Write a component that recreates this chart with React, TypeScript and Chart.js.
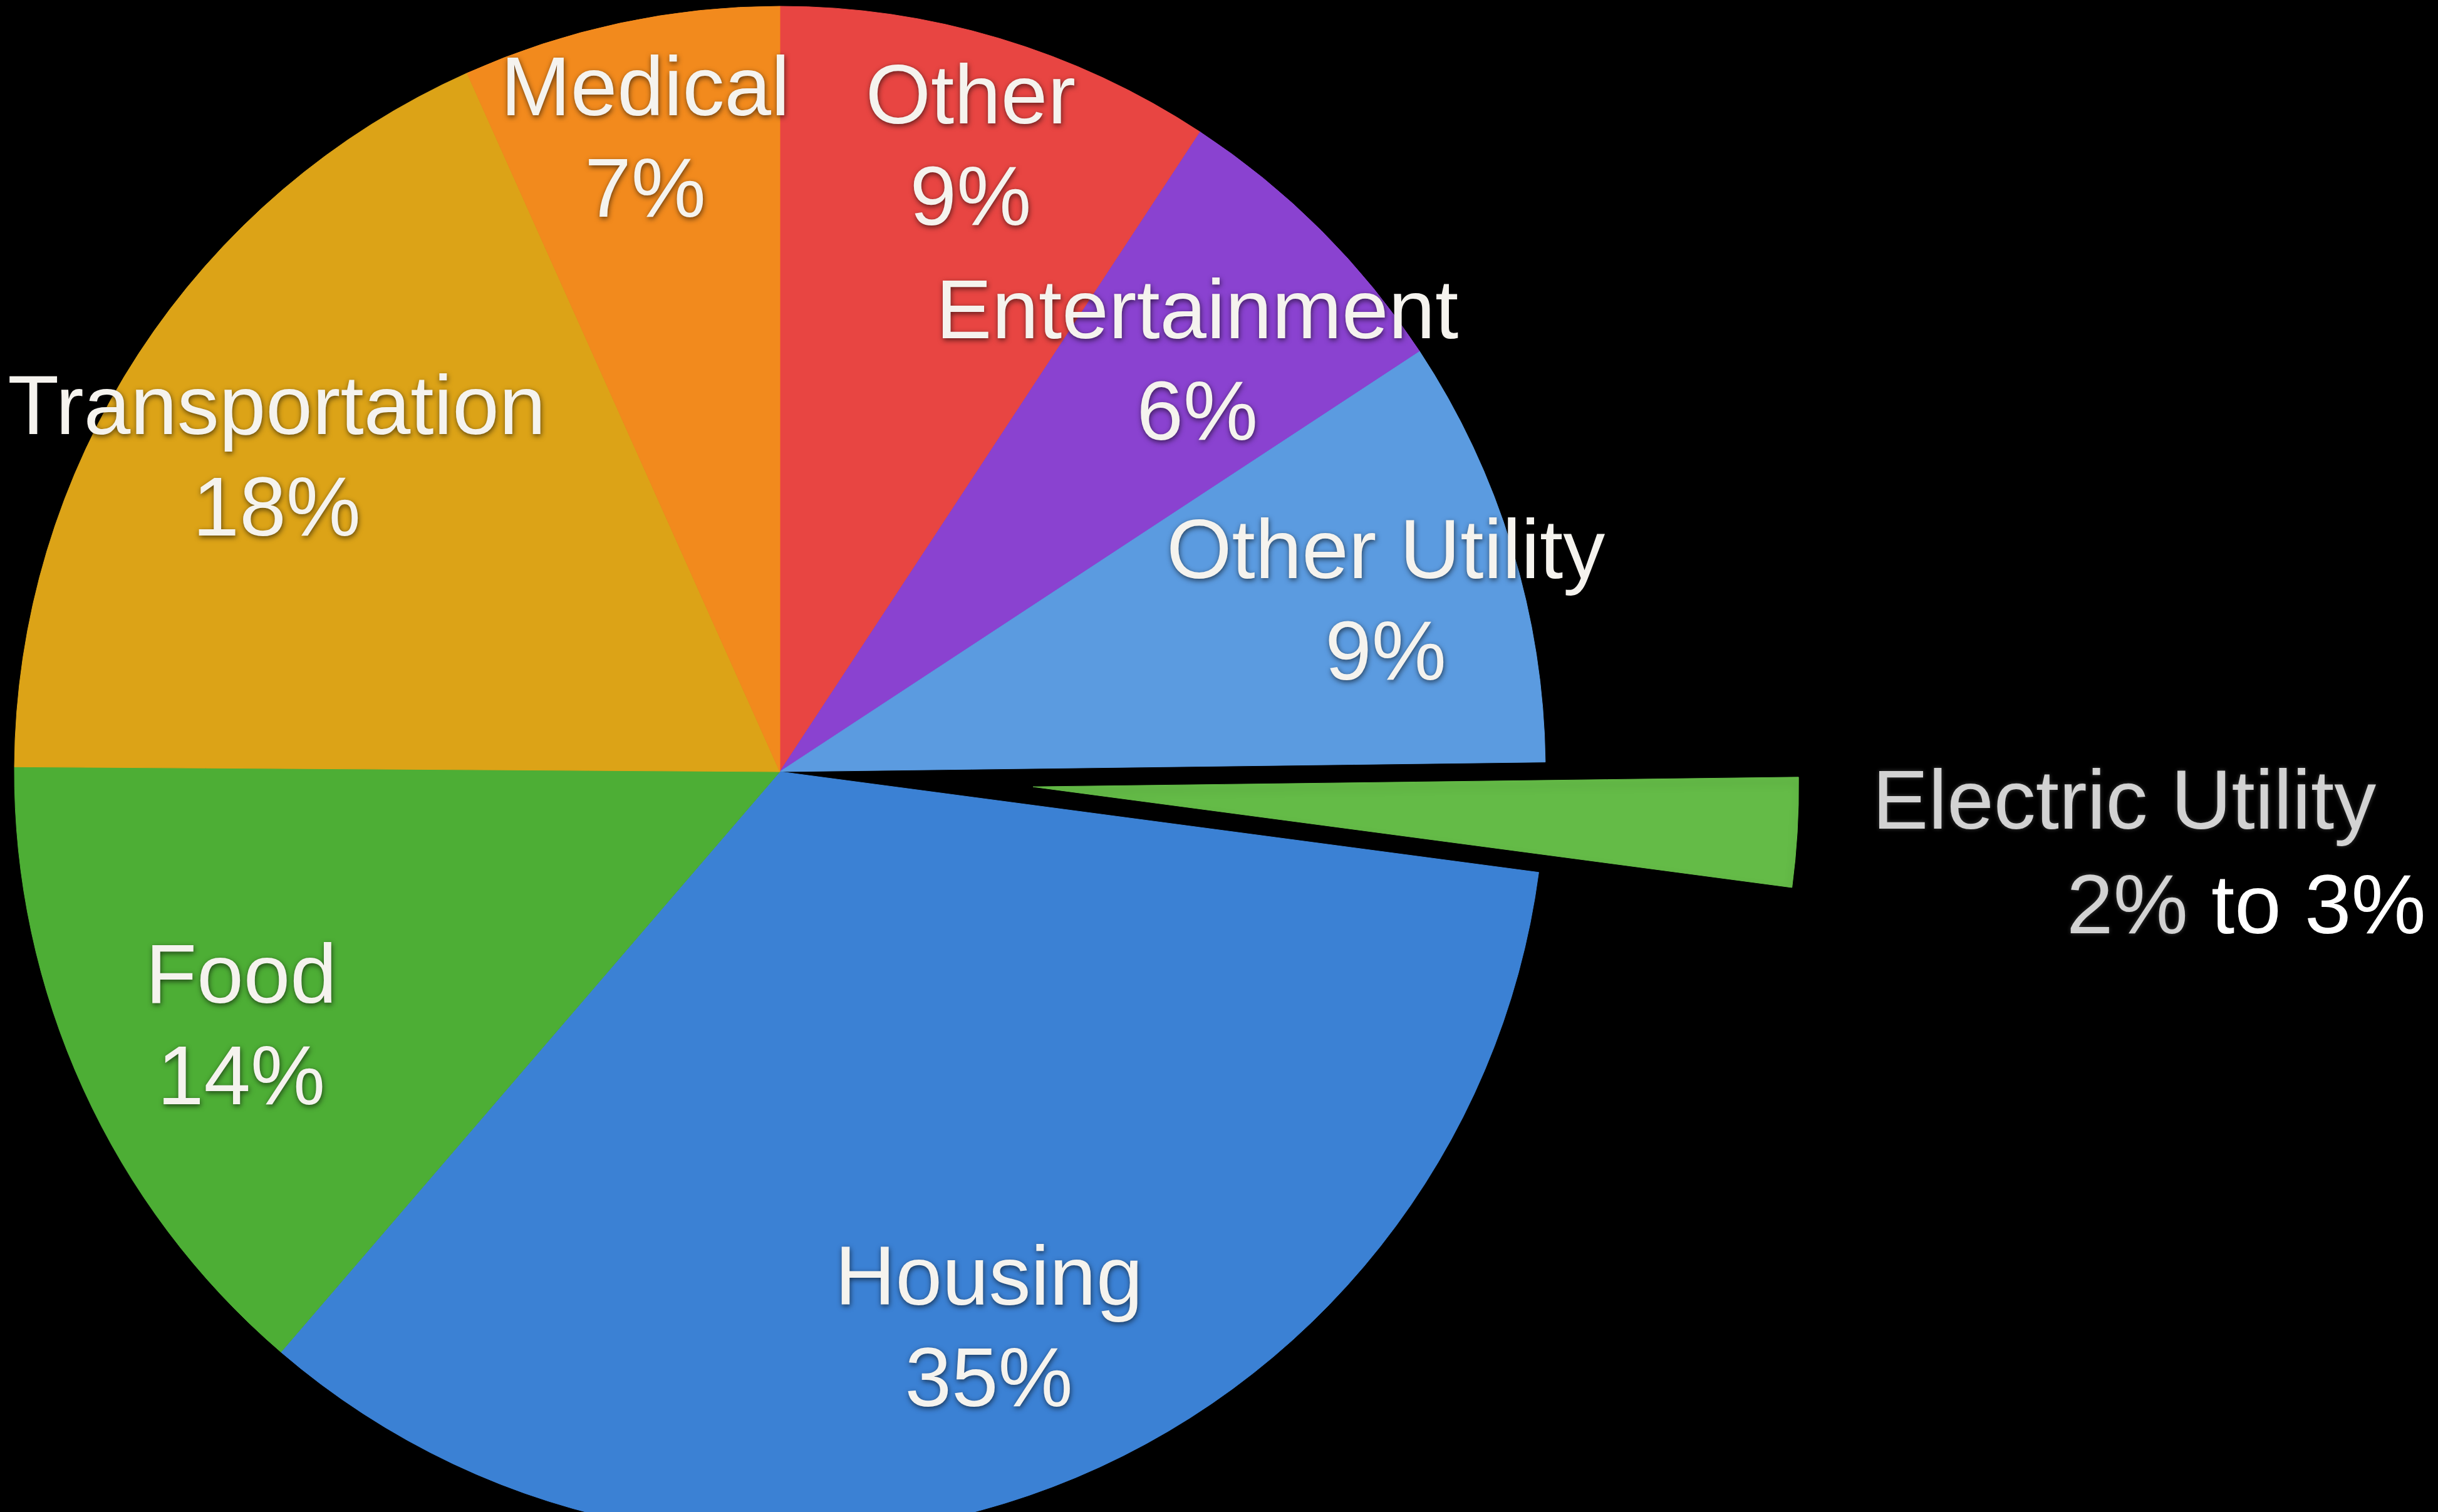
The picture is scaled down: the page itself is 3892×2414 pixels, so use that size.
import React, { useEffect, useRef } from 'react';
import { Chart, registerables } from 'chart.js';

Chart.register(...registerables);

// ---- data ----
const categories = ['Other', 'Entertainment', 'Other Utility', 'Electric Utility', 'Housing', 'Food', 'Transportation', 'Medical'];
const shares = [9.25, 6.5, 9.05, 2.3, 34.2, 13.8, 18.2, 6.7];
const percentLabels = ['9%', '6%', '9%', '2% to 3%', '35%', '14%', '18%', '7%'];
const sliceColors = ['#e84542', '#8a42d0', '#5b9be0', '#64bb47', '#3b81d4', '#4dae35', '#dca317', '#f28a1d'];
const explode = [0, 0, 0, 405, 0, 0, 0, 0];

// ---- label layout (fraction of radius, angular nudge in degrees) ----
const labelRadius = [0.857, 0.767, 0.823, 0, 0.773, 0.777, 0.777, 0.849];
const labelShift = [0.25, 0.3, 1.1, 0, 0.2, -0.6, -0.9, 0.1];
const EXPLODED = 3;

const W = 3892;
const H = 2414;
const CX = 1245;
const CY = 1232;
const R = 1222;
const FONT = "134px 'Liberation Sans', Arial, Helvetica, sans-serif";
const LINE = 162;

const explodePlugin = {
  id: 'explodeSlice',
  afterUpdate(chart: any) {
    const meta = chart.getDatasetMeta(0);
    meta.data.forEach((el: any, i: number) => {
      const d = explode[i];
      if (!d) return;
      const baseDraw = Object.getPrototypeOf(el).draw;
      el.draw = function (ctx: CanvasRenderingContext2D, area: any) {
        const mid = (this.startAngle + this.endAngle) / 2;
        ctx.save();
        ctx.translate(Math.cos(mid) * d, Math.sin(mid) * d);
        ctx.shadowColor = 'rgba(0,0,0,0.45)';
        ctx.shadowBlur = 14;
        ctx.shadowOffsetY = 8;
        baseDraw.call(this, ctx, area);
        ctx.restore();
      };
    });
  },
};

const labelPlugin = {
  id: 'sliceLabels',
  afterDatasetsDraw(chart: any) {
    const ctx = chart.ctx as CanvasRenderingContext2D;
    const meta = chart.getDatasetMeta(0);
    ctx.save();
    ctx.font = FONT;
    meta.data.forEach((el: any, i: number) => {
      const p = el.getProps(['x', 'y', 'startAngle', 'endAngle', 'outerRadius'], true);
      const mid = (p.startAngle + p.endAngle) / 2;
      if (i === EXPLODED) {
        const tipX = p.x + Math.cos(mid) * (p.outerRadius + explode[i]);
        const left = tipX + 120;
        const base1 = p.y + 91;
        const base2 = base1 + 167;
        ctx.textAlign = 'left';
        ctx.textBaseline = 'alphabetic';
        ctx.shadowColor = 'rgba(255,255,255,0.25)';
        ctx.shadowBlur = 6;
        ctx.fillStyle = '#d2d2d2';
        ctx.fillText(categories[i], left, base1);
        const parts = percentLabels[i].split(' ');
        const first = parts[0];
        const rest = ' ' + parts.slice(1).join(' ');
        const x2 = left + 310;
        ctx.fillText(first, x2, base2);
        const w1 = ctx.measureText(first).width;
        ctx.shadowBlur = 0;
        ctx.shadowColor = 'transparent';
        ctx.fillStyle = '#ffffff';
        ctx.fillText(rest, x2 + w1, base2);
        return;
      }
      const a = mid + (labelShift[i] * Math.PI) / 180;
      const r = p.outerRadius * labelRadius[i];
      const ax = p.x + Math.cos(a) * r;
      const ay = p.y + Math.sin(a) * r;
      ctx.textAlign = 'center';
      ctx.textBaseline = 'alphabetic';
      ctx.shadowColor = 'rgba(0,0,0,0.6)';
      ctx.shadowBlur = 8;
      ctx.shadowOffsetX = 1;
      ctx.shadowOffsetY = 3;
      ctx.fillStyle = '#f5f3ee';
      ctx.fillText(categories[i], ax, ay - LINE / 2 + 48);
      ctx.fillText(percentLabels[i], ax, ay + LINE / 2 + 48);
      ctx.shadowOffsetX = 0;
      ctx.shadowOffsetY = 0;
    });
    ctx.restore();
  },
};

export default function App() {
  const ref = useRef<HTMLCanvasElement | null>(null);

  useEffect(() => {
    document.body.style.margin = '0';
    document.body.style.background = '#000';
    const canvas = ref.current;
    if (!canvas) return;
    const chart = new Chart(canvas, {
      type: 'pie',
      data: {
        labels: categories,
        datasets: [
          {
            data: shares,
            backgroundColor: sliceColors,
            borderColor: sliceColors,
            borderWidth: 1,
            offset: 0,
            hoverOffset: 0,
            clip: false,
          } as any,
        ],
      },
      options: {
        responsive: false,
        maintainAspectRatio: false,
        animation: false,
        devicePixelRatio: 1,
        radius: R,
        layout: {
          padding: { left: 0, right: W - 2 * CX, top: 2 * CY - H, bottom: 0 },
        },
        events: [],
        plugins: {
          legend: { display: false },
          tooltip: { enabled: false },
        },
      } as any,
      plugins: [explodePlugin, labelPlugin],
    });
    return () => chart.destroy();
  }, []);

  return (
    <div style={{ width: W, height: H, background: '#000', position: 'relative', overflow: 'hidden' }}>
      <canvas ref={ref} width={W} height={H} style={{ display: 'block', width: W, height: H }} />
    </div>
  );
}
